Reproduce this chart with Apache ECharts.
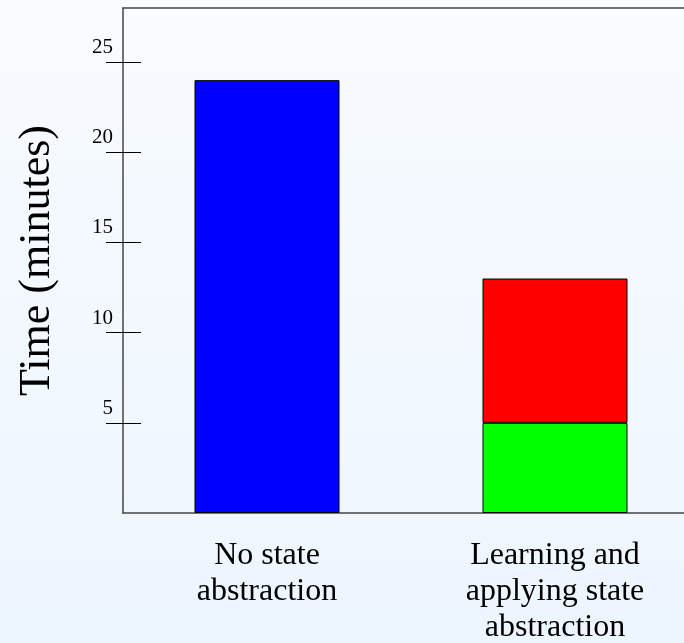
<!DOCTYPE html>
<html><head><meta charset="utf-8">
<script src="https://cdn.jsdelivr.net/npm/echarts@6/dist/echarts.min.js"></script>
<style>html,body{margin:0;padding:0;}#c{width:684px;height:643px;}</style>
</head><body><div id="c"></div>
<script>
const categories = ['No state\nabstraction', 'Learning and\napplying state\nabstraction'];
const noAbstraction = [24, null];
const applying = [null, 5];
const learning = [null, 8];
const yTicks = [5, 10, 15, 20, 25];

const chart = echarts.init(document.getElementById('c'));
const font = 'Liberation Serif';
const axisCommon = {
  type: 'value', min: 0, max: 28, interval: 5, position: 'left'
};
chart.setOption({
  animation: false,
  backgroundColor: {type:'linear', x:0, y:0, x2:0, y2:1, colorStops:[{offset:0,color:'#f8fbff'},{offset:1,color:'#edf5fe'}]},
  grid: {left: 123, top: 8, width: 576, height: 505, outerBoundsMode: 'none', containLabel: false},
  xAxis: [{
    type: 'category', data: categories,
    axisLine: {onZero: false, lineStyle: {color: '#444', width: 1.5}},
    axisTick: {show: false},
    axisLabel: {margin: 25, fontFamily: font, fontSize: 32, lineHeight: 36, color: '#000'}
  }, {
    type: 'category', data: categories, position: 'top',
    axisLine: {onZero: false, lineStyle: {color: '#444', width: 1.5}},
    axisTick: {show: false}, axisLabel: {show: false}
  }],
  yAxis: [Object.assign({}, axisCommon, {
    name: 'Time (minutes)', nameLocation: 'middle', nameGap: 64,
    nameTextStyle: {fontFamily: font, fontSize: 44, color: '#000'},
    axisLine: {show: true, lineStyle: {color: '#444', width: 1.5}},
    axisTick: {show: true, inside: true, length: 18, customValues: yTicks, lineStyle: {color: '#000'}},
    splitLine: {show: false},
    axisLabel: {
      margin: 10, fontFamily: font, fontSize: 21, color: '#000', verticalAlign: 'bottom',
      padding: [0, 0, 4, 0], customValues: yTicks
    }
  }), Object.assign({}, axisCommon, {
    axisLine: {show: false},
    axisTick: {show: true, inside: false, length: 17, customValues: yTicks, lineStyle: {color: '#000'}},
    splitLine: {show: false}, axisLabel: {show: false}
  })],
  series: [
    {type: 'bar', stack: 's', data: noAbstraction, barWidth: 145, itemStyle: {color: '#0000ff', borderColor: '#000', borderWidth: 1}},
    {type: 'bar', stack: 's', data: applying, barWidth: 145, itemStyle: {color: '#00ff00', borderColor: '#000', borderWidth: 1}},
    {type: 'bar', stack: 's', data: learning, barWidth: 145, itemStyle: {color: '#ff0000', borderColor: '#000', borderWidth: 1}}
  ]
});
</script></body></html>
